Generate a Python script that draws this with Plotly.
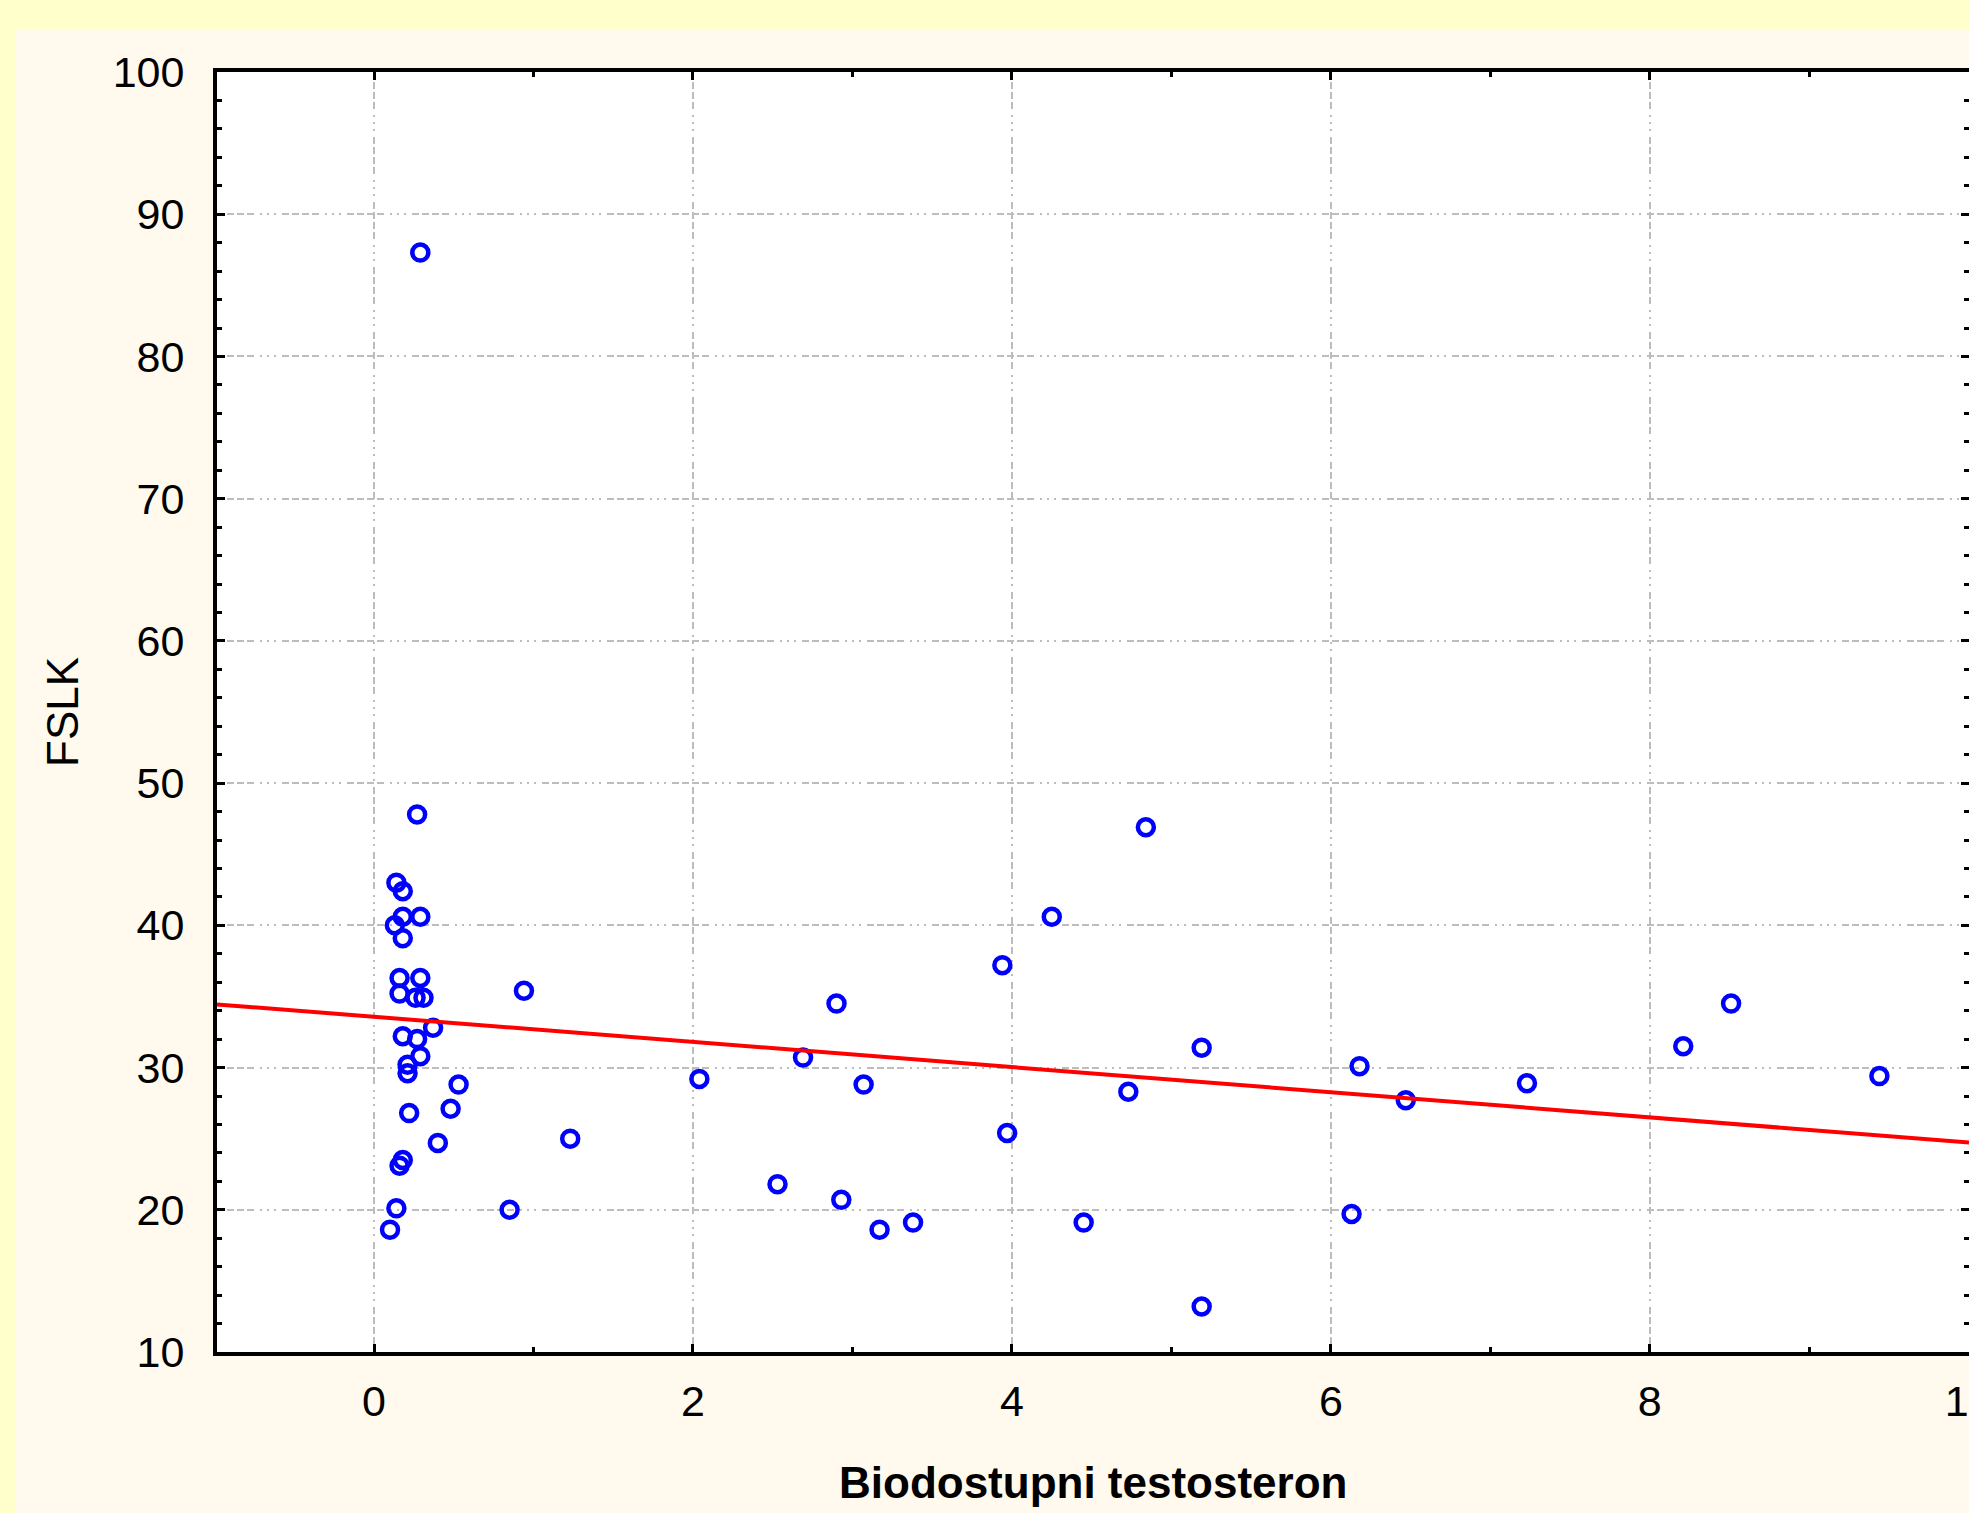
import plotly.graph_objects as go
import numpy as np

# ---- data ----
bio_testosteron = [0.29, 0.27, 0.14, 0.18, 0.18, 0.29, 0.13, 0.18, 0.16, 0.29,
                   0.16, 0.26, 0.31, 0.94, 0.37, 0.18, 0.27, 0.29, 0.21, 0.21,
                   0.53, 0.48, 0.22, 0.40, 1.23, 0.18, 0.16, 0.14, 0.85, 0.10,
                   2.04, 2.53, 2.69, 2.90, 2.93, 3.07, 3.17, 3.38, 3.94, 3.97,
                   4.25, 4.45, 4.73, 4.84, 5.19, 5.19, 6.13, 6.18, 6.47, 7.23,
                   8.21, 8.51, 9.44]
fslk = [87.3, 47.8, 43.0, 42.4, 40.6, 40.6, 40.0, 39.1, 36.3, 36.3,
        35.2, 34.9, 34.9, 35.4, 32.8, 32.2, 32.0, 30.8, 30.2, 29.6,
        28.8, 27.1, 26.8, 24.7, 25.0, 23.5, 23.1, 20.1, 20.0, 18.6,
        29.2, 21.8, 30.7, 34.5, 20.7, 28.8, 18.6, 19.1, 37.2, 25.4,
        40.6, 19.1, 28.3, 46.9, 31.4, 13.2, 19.7, 30.1, 27.7, 28.9,
        31.5, 34.5, 29.4]

fit_intercept = 33.57
fit_slope = -0.884

x_ticks = [0, 2, 4, 6, 8, 10]
y_ticks = [10, 20, 30, 40, 50, 60, 70, 80, 90, 100]
x_range = [-0.985, 10.002]
y_range = [10, 100]

x_title = "Biodostupni testosteron"
y_title = "FSLK"

# ---- figure ----
W, H = 1969, 1513
ML, MR, MT, MB = 217, 0, 72, 161
plot_w = W - ML - MR
plot_h = H - MT - MB

def px_to_paper_x(px):
    return (px - ML) / plot_w

def px_to_paper_y(py):
    return (H - MB - py) / plot_h

fit_x = np.array(x_range)
fit_y = fit_intercept + fit_slope * fit_x

fig = go.Figure()
fig.add_trace(go.Scatter(
    x=bio_testosteron, y=fslk, mode="markers",
    marker=dict(symbol="circle-open", size=16, color="#0000FF",
                line=dict(width=4.5, color="#0000FF")),
    showlegend=False, cliponaxis=True))
fig.add_trace(go.Scatter(
    x=fit_x, y=fit_y, mode="lines",
    line=dict(color="#FF0000", width=4),
    showlegend=False))

grid_dash = "7px,3px,7px,3px,7px,3px,7px,6px,2px,5px,2px,5px,2px,6px"
font_fam = "Liberation Sans, Arial, sans-serif"

common_axis = dict(
    showline=True, linewidth=4, linecolor="black", mirror="ticks",
    ticks="inside", ticklen=8, tickwidth=3, tickcolor="black",
    showgrid=True, gridcolor="#BDBDBD", gridwidth=2, griddash=grid_dash,
    zeroline=False, ticklabeloverflow="allow", automargin=False,
    tickfont=dict(family=font_fam, size=43, color="black"),
)

fig.update_xaxes(
    range=x_range, tickmode="array", tickvals=x_ticks,
    ticktext=[str(v) for v in x_ticks],
    ticklabelstandoff=8,
    minor=dict(dtick=1, tick0=0, ticks="inside", ticklen=5, tickwidth=3,
               tickcolor="black", showgrid=False),
    **common_axis)
fig.update_yaxes(
    range=y_range, tickmode="array", tickvals=y_ticks,
    ticktext=[str(v) for v in y_ticks],
    ticklabelstandoff=20,
    minor=dict(dtick=2, tick0=0, ticks="inside", ticklen=5, tickwidth=3,
               tickcolor="black", showgrid=False),
    **common_axis)

shapes = [
    # top yellow band
    dict(type="rect", xref="paper", yref="paper", layer="below",
         x0=px_to_paper_x(-10), x1=px_to_paper_x(W + 10),
         y0=px_to_paper_y(30), y1=px_to_paper_y(-10),
         fillcolor="#FFFFCC", line=dict(width=0)),
    # left yellow strip
    dict(type="rect", xref="paper", yref="paper", layer="below",
         x0=px_to_paper_x(-10), x1=px_to_paper_x(15),
         y0=px_to_paper_y(H + 10), y1=px_to_paper_y(-10),
         fillcolor="#FFFFCC", line=dict(width=0)),
]

annotations = [
    dict(text=y_title, xref="paper", yref="paper",
         x=px_to_paper_x(62), y=0.5, textangle=-90,
         xanchor="center", yanchor="middle", showarrow=False,
         font=dict(family=font_fam, size=44, color="black")),
    dict(text="<b>" + x_title + "</b>", xref="paper", yref="paper",
         x=0.5, y=px_to_paper_y(1482),
         xanchor="center", yanchor="middle", showarrow=False,
         font=dict(family=font_fam, size=44, color="black")),
]

fig.update_layout(
    width=W, height=H,
    margin=dict(l=ML, r=MR, t=MT, b=MB, pad=0, autoexpand=False),
    paper_bgcolor="#FFFAED",
    plot_bgcolor="white",
    shapes=shapes,
    annotations=annotations,
    showlegend=False,
)

fig.write_html("out.html")
